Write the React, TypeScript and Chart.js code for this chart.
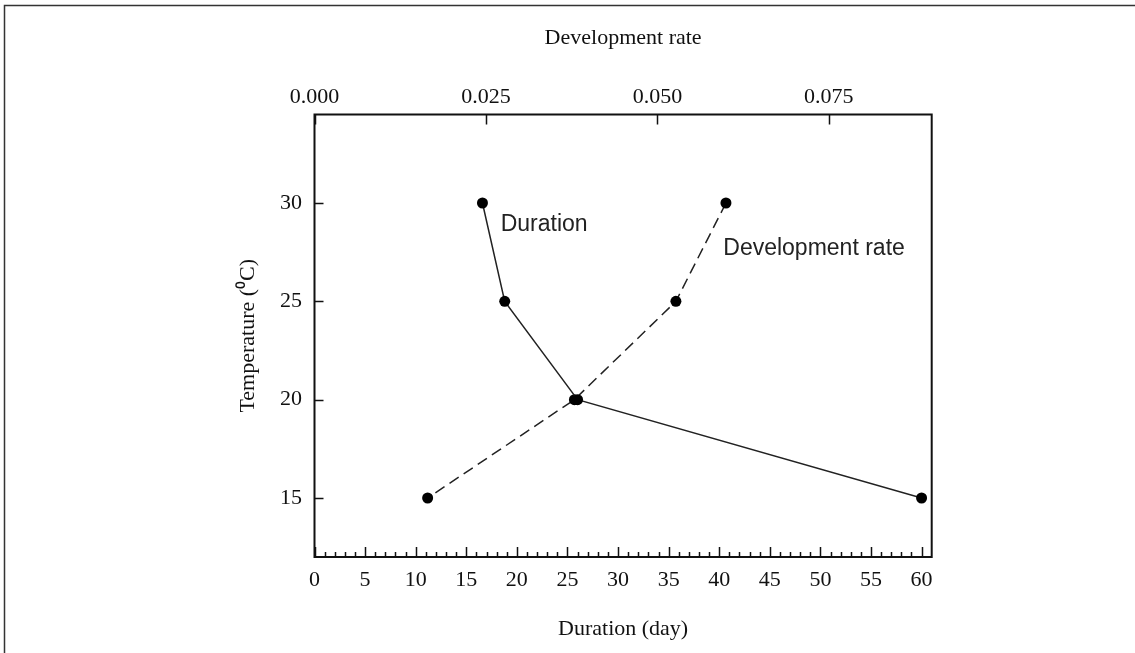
import React, { useEffect, useRef } from "react";
import { Chart, registerables } from "chart.js";

Chart.register(...registerables);

// ---- data ----
const temperatures = [30, 25, 20, 15];
const durationDays = [16.6, 18.8, 26.0, 60];
const developmentRate = [0.06, 0.0527, 0.0379, 0.0165];

// ---- ticks ----
const durationTicks = [0, 5, 10, 15, 20, 25, 30, 35, 40, 45, 50, 55, 60];
const durationMinorStep = 1;
const rateTicks = [0, 0.025, 0.05, 0.075];
const temperatureTicks = [15, 20, 25, 30];

// ---- in-plot labels (data units of the bottom/left axes) ----
const labelTexts = ["Duration", "Development rate"];
const labelDays = [18.4, 40.4];
const labelTemps = [28.9, 27.7];

const SERIF = '"Liberation Serif", "Times New Roman", serif';
const SANS = '"Liberation Sans", Arial, sans-serif';

const decorPlugin = {
  id: "decor",
  afterDatasetsDraw(chart: any) {
    const { ctx, chartArea, scales } = chart;
    const { left, right, top, bottom } = chartArea;
    ctx.save();
    // outer figure border (top & left)
    ctx.strokeStyle = "#333";
    ctx.lineWidth = 1.5;
    ctx.beginPath();
    ctx.moveTo(4.5, 653);
    ctx.lineTo(4.5, 5.5);
    ctx.lineTo(1135, 5.5);
    ctx.stroke();

    // plot frame
    ctx.strokeStyle = "#111";
    ctx.lineWidth = 2;
    ctx.strokeRect(left, top, right - left, bottom - top);

    ctx.lineWidth = 1.5;
    ctx.beginPath();
    // bottom ticks (inward)
    const xs = scales.x;
    const xMax = durationTicks[durationTicks.length - 1];
    for (let v = 0; v <= xMax + 1e-9; v += durationMinorStep) {
      const px = Math.round(xs.getPixelForValue(v)) + 0.5;
      const isMajor = durationTicks.includes(v);
      ctx.moveTo(px, bottom);
      ctx.lineTo(px, bottom - (isMajor ? 10 : 5));
    }
    // top ticks (inward)
    const x2 = scales.x2;
    rateTicks.forEach((v) => {
      const px = Math.round(x2.getPixelForValue(v)) + 0.5;
      ctx.moveTo(px, top);
      ctx.lineTo(px, top + 10);
    });
    // left ticks (inward)
    const ys = scales.y;
    temperatureTicks.forEach((v) => {
      const py = Math.round(ys.getPixelForValue(v)) + 0.5;
      ctx.moveTo(left, py);
      ctx.lineTo(left + 9, py);
    });
    ctx.stroke();

    // in-plot labels
    ctx.fillStyle = "#222";
    ctx.font = `23px ${SANS}`;
    ctx.textAlign = "left";
    ctx.textBaseline = "middle";
    labelTexts.forEach((t, i) => {
      ctx.fillText(t, xs.getPixelForValue(labelDays[i]), ys.getPixelForValue(labelTemps[i]));
    });
    ctx.restore();
  },
};

export default function App() {
  const canvasRef = useRef<HTMLCanvasElement | null>(null);

  useEffect(() => {
    const canvas = canvasRef.current;
    if (!canvas) return;
    const tickFont = { family: SERIF, size: 22 };
    const titleFont = { family: SERIF, size: 22 };
    const chart = new Chart(canvas, {
      type: "scatter",
      data: {
        datasets: [
          {
            label: "Duration",
            data: temperatures.map((t, i) => ({ x: durationDays[i], y: t })),
            xAxisID: "x",
            yAxisID: "y",
            showLine: true,
            borderColor: "#222",
            borderWidth: 1.5,
            pointRadius: 5.5,
            pointBackgroundColor: "#000",
            pointBorderColor: "#000",
            pointBorderWidth: 0,
          },
          {
            label: "Development rate",
            data: temperatures.map((t, i) => ({ x: developmentRate[i], y: t })),
            xAxisID: "x2",
            yAxisID: "y",
            showLine: true,
            borderColor: "#222",
            borderWidth: 1.5,
            borderDash: [11, 6],
            pointRadius: 5.5,
            pointBackgroundColor: "#000",
            pointBorderColor: "#000",
            pointBorderWidth: 0,
          },
        ],
      },
      options: {
        responsive: false,
        animation: false,
        layout: { padding: { left: 230.8, top: 21.5, right: 203.3, bottom: 6.8 } },
        plugins: { legend: { display: false }, tooltip: { enabled: false } },
        scales: {
          x: {
            type: "linear",
            position: "bottom",
            min: 0,
            max: 61,
            grid: { display: false, drawTicks: false },
            border: { display: false },
            ticks: {
              padding: 10,
              color: "#111",
              font: tickFont,
              maxRotation: 0,
              autoSkip: false,
              callback: (v: any) => String(v),
            },
            title: { display: true, text: "Duration (day)", color: "#111", font: titleFont },
            afterBuildTicks: (s: any) => {
              s.ticks = durationTicks.map((value) => ({ value }));
            },
            afterFit: (s: any) => {
              s.height = 646.2 - 557;
            },
          },
          x2: {
            type: "linear",
            position: "top",
            min: 0,
            max: 0.09,
            grid: { display: false, drawTicks: false },
            border: { display: false },
            ticks: {
              padding: 4.3,
              color: "#111",
              font: tickFont,
              maxRotation: 0,
              autoSkip: false,
              callback: (v: any) => Number(v).toFixed(3),
            },
            title: { display: true, text: "Development rate", color: "#111", font: titleFont },
            afterBuildTicks: (s: any) => {
              s.ticks = rateTicks.map((value) => ({ value }));
            },
            afterFit: (s: any) => {
              s.height = 114.5 - 21.5;
            },
          },
          y: {
            type: "linear",
            position: "left",
            min: 12,
            max: 34.5,
            grid: { display: false, drawTicks: false },
            border: { display: false },
            ticks: {
              padding: 12.5,
              color: "#111",
              font: tickFont,
              autoSkip: false,
              callback: (v: any) => String(v),
            },
            title: { display: true, text: "Temperature (\u2070C)", color: "#111", font: titleFont },
            afterBuildTicks: (s: any) => {
              s.ticks = temperatureTicks.map((value) => ({ value }));
            },
            afterFit: (s: any) => {
              s.width = 314.5 - 230.8;
            },
          },
        },
      },
      plugins: [decorPlugin],
    } as any);
    return () => chart.destroy();
  }, []);

  return (
    <div
      style={{
        position: "absolute",
        left: 0,
        top: 0,
        width: 1135,
        height: 653,
        background: "#fff",
      }}
    >
      <canvas ref={canvasRef} width={1135} height={653} style={{ display: "block" }} />
    </div>
  );
}
